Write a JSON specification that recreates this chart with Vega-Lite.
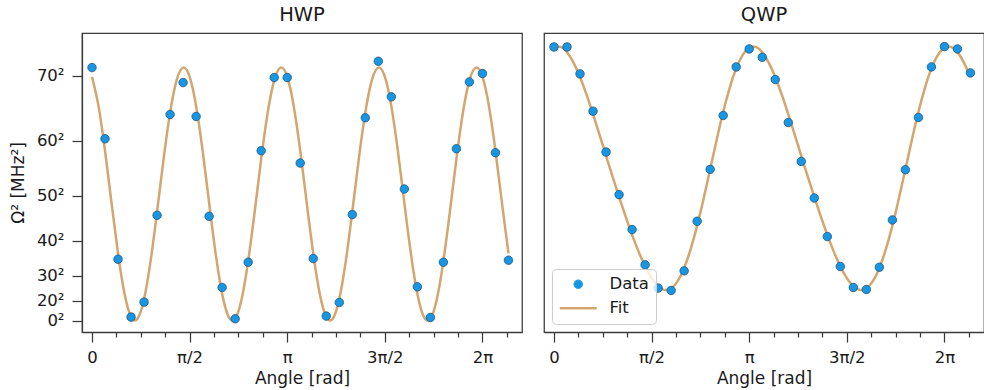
{
  "$schema": "https://vega.github.io/schema/vega-lite/v6.json",
  "padding": {"left": 8, "top": 3, "right": 0, "bottom": 0},
  "datasets": {
    "hwp_data": [
      {"angle": 0, "omega2": 5059, "series": "Data"},
      {"angle": 0.20944, "omega2": 3636, "series": "Data"},
      {"angle": 0.41888, "omega2": 1230, "series": "Data"},
      {"angle": 0.62832, "omega2": 73, "series": "Data"},
      {"angle": 0.83776, "omega2": 372, "series": "Data"},
      {"angle": 1.0472, "omega2": 2107, "series": "Data"},
      {"angle": 1.25664, "omega2": 4122, "series": "Data"},
      {"angle": 1.46608, "omega2": 4760, "series": "Data"},
      {"angle": 1.67552, "omega2": 4082, "series": "Data"},
      {"angle": 1.88496, "omega2": 2087, "series": "Data"},
      {"angle": 2.0944, "omega2": 665, "series": "Data"},
      {"angle": 2.30383, "omega2": 40, "series": "Data"},
      {"angle": 2.51327, "omega2": 1170, "series": "Data"},
      {"angle": 2.72271, "omega2": 3397, "series": "Data"},
      {"angle": 2.93215, "omega2": 4860, "series": "Data"},
      {"angle": 3.14159, "omega2": 4860, "series": "Data"},
      {"angle": 3.35103, "omega2": 3151, "series": "Data"},
      {"angle": 3.56047, "omega2": 1243, "series": "Data"},
      {"angle": 3.76991, "omega2": 93, "series": "Data"},
      {"angle": 3.97935, "omega2": 366, "series": "Data"},
      {"angle": 4.18879, "omega2": 2121, "series": "Data"},
      {"angle": 4.39823, "omega2": 4055, "series": "Data"},
      {"angle": 4.60767, "omega2": 5185, "series": "Data"},
      {"angle": 4.81711, "omega2": 4474, "series": "Data"},
      {"angle": 5.02655, "omega2": 2633, "series": "Data"},
      {"angle": 5.23599, "omega2": 678, "series": "Data"},
      {"angle": 5.44543, "omega2": 66, "series": "Data"},
      {"angle": 5.65487, "omega2": 1170, "series": "Data"},
      {"angle": 5.86431, "omega2": 3437, "series": "Data"},
      {"angle": 6.07375, "omega2": 4773, "series": "Data"},
      {"angle": 6.28319, "omega2": 4940, "series": "Data"},
      {"angle": 6.49263, "omega2": 3357, "series": "Data"},
      {"angle": 6.70206, "omega2": 1210, "series": "Data"}
    ],
    "qwp_data": [
      {"angle": 0, "omega2": 5471, "series": "Data"},
      {"angle": 0.20944, "omega2": 5471, "series": "Data"},
      {"angle": 0.41888, "omega2": 4933, "series": "Data"},
      {"angle": 0.62832, "omega2": 4188, "series": "Data"},
      {"angle": 0.83776, "omega2": 3371, "series": "Data"},
      {"angle": 1.0472, "omega2": 2520, "series": "Data"},
      {"angle": 1.25664, "omega2": 1822, "series": "Data"},
      {"angle": 1.46608, "omega2": 1117, "series": "Data"},
      {"angle": 1.67552, "omega2": 652, "series": "Data"},
      {"angle": 1.88496, "omega2": 605, "series": "Data"},
      {"angle": 2.0944, "omega2": 997, "series": "Data"},
      {"angle": 2.30383, "omega2": 1988, "series": "Data"},
      {"angle": 2.51327, "omega2": 3025, "series": "Data"},
      {"angle": 2.72271, "omega2": 4102, "series": "Data"},
      {"angle": 2.93215, "omega2": 5072, "series": "Data"},
      {"angle": 3.14159, "omega2": 5431, "series": "Data"},
      {"angle": 3.35103, "omega2": 5265, "series": "Data"},
      {"angle": 3.56047, "omega2": 4820, "series": "Data"},
      {"angle": 3.76991, "omega2": 3962, "series": "Data"},
      {"angle": 3.97935, "omega2": 3184, "series": "Data"},
      {"angle": 4.18879, "omega2": 2453, "series": "Data"},
      {"angle": 4.39823, "omega2": 1682, "series": "Data"},
      {"angle": 4.60767, "omega2": 1084, "series": "Data"},
      {"angle": 4.81711, "omega2": 665, "series": "Data"},
      {"angle": 5.02655, "omega2": 625, "series": "Data"},
      {"angle": 5.23599, "omega2": 1070, "series": "Data"},
      {"angle": 5.44543, "omega2": 2014, "series": "Data"},
      {"angle": 5.65487, "omega2": 3018, "series": "Data"},
      {"angle": 5.86431, "omega2": 4062, "series": "Data"},
      {"angle": 6.07375, "omega2": 5072, "series": "Data"},
      {"angle": 6.28319, "omega2": 5478, "series": "Data"},
      {"angle": 6.49263, "omega2": 5431, "series": "Data"},
      {"angle": 6.70206, "omega2": 4953, "series": "Data"}
    ],
    "hwp_fit": [
      {"angle": 0, "omega2": 4877, "series": "Fit"},
      {"angle": 0.10472, "omega2": 4289, "series": "Fit"},
      {"angle": 0.20944, "omega2": 3397, "series": "Fit"},
      {"angle": 0.31416, "omega2": 2355, "series": "Fit"},
      {"angle": 0.41888, "omega2": 1345, "series": "Fit"},
      {"angle": 0.5236, "omega2": 539, "series": "Fit"},
      {"angle": 0.62832, "omega2": 78, "series": "Fit"},
      {"angle": 0.73304, "omega2": 41, "series": "Fit"},
      {"angle": 0.83776, "omega2": 435, "series": "Fit"},
      {"angle": 0.94248, "omega2": 1192, "series": "Fit"},
      {"angle": 1.0472, "omega2": 2180, "series": "Fit"},
      {"angle": 1.15192, "omega2": 3229, "series": "Fit"},
      {"angle": 1.25664, "omega2": 4158, "series": "Fit"},
      {"angle": 1.36136, "omega2": 4805, "series": "Fit"},
      {"angle": 1.46608, "omega2": 5059, "series": "Fit"},
      {"angle": 1.5708, "omega2": 4877, "series": "Fit"},
      {"angle": 1.67552, "omega2": 4289, "series": "Fit"},
      {"angle": 1.78024, "omega2": 3397, "series": "Fit"},
      {"angle": 1.88496, "omega2": 2355, "series": "Fit"},
      {"angle": 1.98968, "omega2": 1345, "series": "Fit"},
      {"angle": 2.0944, "omega2": 539, "series": "Fit"},
      {"angle": 2.19911, "omega2": 78, "series": "Fit"},
      {"angle": 2.30383, "omega2": 41, "series": "Fit"},
      {"angle": 2.40855, "omega2": 435, "series": "Fit"},
      {"angle": 2.51327, "omega2": 1192, "series": "Fit"},
      {"angle": 2.61799, "omega2": 2180, "series": "Fit"},
      {"angle": 2.72271, "omega2": 3229, "series": "Fit"},
      {"angle": 2.82743, "omega2": 4158, "series": "Fit"},
      {"angle": 2.93215, "omega2": 4805, "series": "Fit"},
      {"angle": 3.03687, "omega2": 5059, "series": "Fit"},
      {"angle": 3.14159, "omega2": 4877, "series": "Fit"},
      {"angle": 3.24631, "omega2": 4289, "series": "Fit"},
      {"angle": 3.35103, "omega2": 3397, "series": "Fit"},
      {"angle": 3.45575, "omega2": 2355, "series": "Fit"},
      {"angle": 3.56047, "omega2": 1345, "series": "Fit"},
      {"angle": 3.66519, "omega2": 539, "series": "Fit"},
      {"angle": 3.76991, "omega2": 78, "series": "Fit"},
      {"angle": 3.87463, "omega2": 41, "series": "Fit"},
      {"angle": 3.97935, "omega2": 435, "series": "Fit"},
      {"angle": 4.08407, "omega2": 1192, "series": "Fit"},
      {"angle": 4.18879, "omega2": 2180, "series": "Fit"},
      {"angle": 4.29351, "omega2": 3229, "series": "Fit"},
      {"angle": 4.39823, "omega2": 4158, "series": "Fit"},
      {"angle": 4.50295, "omega2": 4805, "series": "Fit"},
      {"angle": 4.60767, "omega2": 5059, "series": "Fit"},
      {"angle": 4.71239, "omega2": 4877, "series": "Fit"},
      {"angle": 4.81711, "omega2": 4289, "series": "Fit"},
      {"angle": 4.92183, "omega2": 3397, "series": "Fit"},
      {"angle": 5.02655, "omega2": 2355, "series": "Fit"},
      {"angle": 5.13127, "omega2": 1345, "series": "Fit"},
      {"angle": 5.23599, "omega2": 539, "series": "Fit"},
      {"angle": 5.34071, "omega2": 78, "series": "Fit"},
      {"angle": 5.44543, "omega2": 41, "series": "Fit"},
      {"angle": 5.55015, "omega2": 435, "series": "Fit"},
      {"angle": 5.65487, "omega2": 1192, "series": "Fit"},
      {"angle": 5.75959, "omega2": 2180, "series": "Fit"},
      {"angle": 5.86431, "omega2": 3229, "series": "Fit"},
      {"angle": 5.96903, "omega2": 4158, "series": "Fit"},
      {"angle": 6.07375, "omega2": 4805, "series": "Fit"},
      {"angle": 6.17847, "omega2": 5059, "series": "Fit"},
      {"angle": 6.28319, "omega2": 4877, "series": "Fit"},
      {"angle": 6.38791, "omega2": 4289, "series": "Fit"},
      {"angle": 6.49263, "omega2": 3397, "series": "Fit"},
      {"angle": 6.59735, "omega2": 2355, "series": "Fit"},
      {"angle": 6.70206, "omega2": 1345, "series": "Fit"}
    ],
    "qwp_fit": [
      {"angle": 0, "omega2": 5457, "series": "Fit"},
      {"angle": 0.10472, "omega2": 5472, "series": "Fit"},
      {"angle": 0.20944, "omega2": 5367, "series": "Fit"},
      {"angle": 0.31416, "omega2": 5159, "series": "Fit"},
      {"angle": 0.41888, "omega2": 4869, "series": "Fit"},
      {"angle": 0.5236, "omega2": 4518, "series": "Fit"},
      {"angle": 0.62832, "omega2": 4128, "series": "Fit"},
      {"angle": 0.73304, "omega2": 3715, "series": "Fit"},
      {"angle": 0.83776, "omega2": 3296, "series": "Fit"},
      {"angle": 0.94248, "omega2": 2880, "series": "Fit"},
      {"angle": 1.0472, "omega2": 2474, "series": "Fit"},
      {"angle": 1.15192, "omega2": 2084, "series": "Fit"},
      {"angle": 1.25664, "omega2": 1717, "series": "Fit"},
      {"angle": 1.36136, "omega2": 1381, "series": "Fit"},
      {"angle": 1.46608, "omega2": 1088, "series": "Fit"},
      {"angle": 1.5708, "omega2": 851, "series": "Fit"},
      {"angle": 1.67552, "omega2": 688, "series": "Fit"},
      {"angle": 1.78024, "omega2": 615, "series": "Fit"},
      {"angle": 1.88496, "omega2": 645, "series": "Fit"},
      {"angle": 1.98968, "omega2": 791, "series": "Fit"},
      {"angle": 2.0944, "omega2": 1054, "series": "Fit"},
      {"angle": 2.19911, "omega2": 1430, "series": "Fit"},
      {"angle": 2.30383, "omega2": 1901, "series": "Fit"},
      {"angle": 2.40855, "omega2": 2444, "series": "Fit"},
      {"angle": 2.51327, "omega2": 3028, "series": "Fit"},
      {"angle": 2.61799, "omega2": 3616, "series": "Fit"},
      {"angle": 2.72271, "omega2": 4170, "series": "Fit"},
      {"angle": 2.82743, "omega2": 4655, "series": "Fit"},
      {"angle": 2.93215, "omega2": 5043, "series": "Fit"},
      {"angle": 3.03687, "omega2": 5314, "series": "Fit"},
      {"angle": 3.14159, "omega2": 5457, "series": "Fit"},
      {"angle": 3.24631, "omega2": 5472, "series": "Fit"},
      {"angle": 3.35103, "omega2": 5367, "series": "Fit"},
      {"angle": 3.45575, "omega2": 5159, "series": "Fit"},
      {"angle": 3.56047, "omega2": 4869, "series": "Fit"},
      {"angle": 3.66519, "omega2": 4518, "series": "Fit"},
      {"angle": 3.76991, "omega2": 4128, "series": "Fit"},
      {"angle": 3.87463, "omega2": 3715, "series": "Fit"},
      {"angle": 3.97935, "omega2": 3296, "series": "Fit"},
      {"angle": 4.08407, "omega2": 2880, "series": "Fit"},
      {"angle": 4.18879, "omega2": 2474, "series": "Fit"},
      {"angle": 4.29351, "omega2": 2084, "series": "Fit"},
      {"angle": 4.39823, "omega2": 1717, "series": "Fit"},
      {"angle": 4.50295, "omega2": 1381, "series": "Fit"},
      {"angle": 4.60767, "omega2": 1088, "series": "Fit"},
      {"angle": 4.71239, "omega2": 851, "series": "Fit"},
      {"angle": 4.81711, "omega2": 688, "series": "Fit"},
      {"angle": 4.92183, "omega2": 615, "series": "Fit"},
      {"angle": 5.02655, "omega2": 645, "series": "Fit"},
      {"angle": 5.13127, "omega2": 791, "series": "Fit"},
      {"angle": 5.23599, "omega2": 1054, "series": "Fit"},
      {"angle": 5.34071, "omega2": 1430, "series": "Fit"},
      {"angle": 5.44543, "omega2": 1901, "series": "Fit"},
      {"angle": 5.55015, "omega2": 2444, "series": "Fit"},
      {"angle": 5.65487, "omega2": 3028, "series": "Fit"},
      {"angle": 5.75959, "omega2": 3616, "series": "Fit"},
      {"angle": 5.86431, "omega2": 4170, "series": "Fit"},
      {"angle": 5.96903, "omega2": 4655, "series": "Fit"},
      {"angle": 6.07375, "omega2": 5043, "series": "Fit"},
      {"angle": 6.17847, "omega2": 5314, "series": "Fit"},
      {"angle": 6.28319, "omega2": 5457, "series": "Fit"},
      {"angle": 6.38791, "omega2": 5472, "series": "Fit"},
      {"angle": 6.49263, "omega2": 5367, "series": "Fit"},
      {"angle": 6.59735, "omega2": 5159, "series": "Fit"},
      {"angle": 6.70206, "omega2": 4869, "series": "Fit"}
    ]
  },
  "hconcat": [
    {
      "width": 440,
      "height": 299,
      "title": {"text": "HWP"},
      "encoding": {
        "x": {
          "field": "angle", "type": "quantitative",
          "scale": {"domain": [-0.161, 6.92], "nice": false, "zero": false},
          "axis": {
            "title": "Angle [rad]",
            "values": [0, 0.392699, 0.785398, 1.178097, 1.570796, 1.963495, 2.356194, 2.748894, 3.141593, 3.534292, 3.926991, 4.31969, 4.712389, 5.105088, 5.497787, 5.890486, 6.283185, 6.675884],
            "labelExpr": "round(datum.value*8/PI) % 4 != 0 ? '' : ['0','π/2','π','3π/2','2π'][round(datum.value*8/PI)/4]",
            "tickSize": {"condition": {"test": "round(datum.value*8/PI) % 4 == 0", "value": 10}, "value": 5},
            "labelPadding": 7,
            "labelOverlap": false, "labelFlush": false, "labelBound": false
          }
        },
        "y": {
          "field": "omega2", "type": "quantitative",
          "scale": {"domain": [-225, 5750], "nice": false, "zero": false},
          "axis": {
            "title": "Ω² [MHz²]",
            "values": [0, 400, 900, 1600, 2500, 3600, 4900],
            "labelExpr": "sqrt(datum.value) + '²'",
            "tickSize": 10,
            "labelPadding": 8,
            "titlePadding": 9,
            "labelOverlap": false
          }
        }
      },
      "layer": [
        {
          "data": {"name": "hwp_fit"},
          "mark": {"type": "line", "interpolate": "natural", "strokeWidth": 2.5},
          "encoding": {
            "color": {"field": "series", "type": "nominal", "scale": {"domain": ["Data", "Fit"], "range": ["#1797e3", "#d3a56f"]}, "legend": null}
          }
        },
        {
          "data": {"name": "hwp_data"},
          "mark": {"type": "point", "filled": true, "size": 72, "stroke": "#22557f", "strokeWidth": 0.8, "opacity": 1},
          "encoding": {
            "color": {"field": "series", "type": "nominal", "scale": {"domain": ["Data", "Fit"], "range": ["#1797e3", "#d3a56f"]}, "legend": null}
          }
        }
      ]
    },
    {
      "width": 440,
      "height": 299,
      "title": {"text": "QWP"},
      "encoding": {
        "x": {
          "field": "angle", "type": "quantitative",
          "scale": {"domain": [-0.161, 6.92], "nice": false, "zero": false},
          "axis": {
            "title": "Angle [rad]",
            "values": [0, 0.392699, 0.785398, 1.178097, 1.570796, 1.963495, 2.356194, 2.748894, 3.141593, 3.534292, 3.926991, 4.31969, 4.712389, 5.105088, 5.497787, 5.890486, 6.283185, 6.675884],
            "labelExpr": "round(datum.value*8/PI) % 4 != 0 ? '' : ['0','π/2','π','3π/2','2π'][round(datum.value*8/PI)/4]",
            "tickSize": {"condition": {"test": "round(datum.value*8/PI) % 4 == 0", "value": 10}, "value": 5},
            "labelPadding": 7,
            "labelOverlap": false, "labelFlush": false, "labelBound": false
          }
        },
        "y": {
          "field": "omega2", "type": "quantitative",
          "scale": {"domain": [-225, 5750], "nice": false, "zero": false},
          "axis": null
        }
      },
      "layer": [
        {
          "data": {"name": "qwp_fit"},
          "mark": {"type": "line", "interpolate": "natural", "strokeWidth": 2.5},
          "encoding": {
            "color": {
              "field": "series", "type": "nominal",
              "scale": {"domain": ["Data", "Fit"], "range": ["#1797e3", "#d3a56f"]},
              "legend": {
                "title": null,
                "orient": "bottom-left",
                "offset": 8,
                "padding": 7,
                "strokeColor": "#cccccc",
                "fillColor": "rgba(255,255,255,0.8)",
                "cornerRadius": 4,
                "labelFontSize": 16.5,
                "labelColor": "#1a1a1a",
                "symbolSize": 100,
                "symbolOffset": 11,
                "labelOffset": 23,
                "rowPadding": 7,
                "encode": {
                  "symbols": {
                    "update": {
                      "shape": {"signal": "datum.value === 'Fit' ? 'stroke' : 'circle'"},
                      "size": {"signal": "datum.value === 'Fit' ? 1369 : 75"},
                      "strokeWidth": {"signal": "datum.value === 'Fit' ? 2.5 : 0.8"},
                      "stroke": {"signal": "datum.value === 'Fit' ? '#d3a56f' : '#22557f'"},
                      "fill": {"signal": "datum.value === 'Fit' ? 'transparent' : '#1797e3'"},
                      "opacity": {"value": 1}
                    }
                  }
                }
              }
            }
          }
        },
        {
          "data": {"name": "qwp_data"},
          "mark": {"type": "point", "filled": true, "size": 72, "stroke": "#22557f", "strokeWidth": 0.8, "opacity": 1},
          "encoding": {
            "color": {"field": "series", "type": "nominal", "scale": {"domain": ["Data", "Fit"], "range": ["#1797e3", "#d3a56f"]}}
          }
        }
      ]
    }
  ],
  "spacing": 20,
  "resolve": {"legend": {"color": "independent"}, "scale": {"color": "independent"}},
  "config": {
    "font": "DejaVu Sans",
    "view": {"stroke": "#3a3a3a", "strokeWidth": 1.25},
    "title": {"fontSize": 19.5, "fontWeight": "normal", "font": "DejaVu Sans", "color": "#1a1a1a", "offset": 8},
    "axis": {
      "grid": false,
      "domainColor": "#3a3a3a",
      "domainWidth": 1.25,
      "tickColor": "#3a3a3a",
      "tickWidth": 1.25,
      "labelFont": "DejaVu Sans",
      "labelFontSize": 16.5,
      "labelColor": "#1a1a1a",
      "labelPadding": 6,
      "titleFont": "DejaVu Sans",
      "titleFontSize": 17,
      "titleFontWeight": "normal",
      "titleColor": "#1a1a1a",
      "titlePadding": 5
    },
    "legend": {"labelFont": "DejaVu Sans"}
  }
}
